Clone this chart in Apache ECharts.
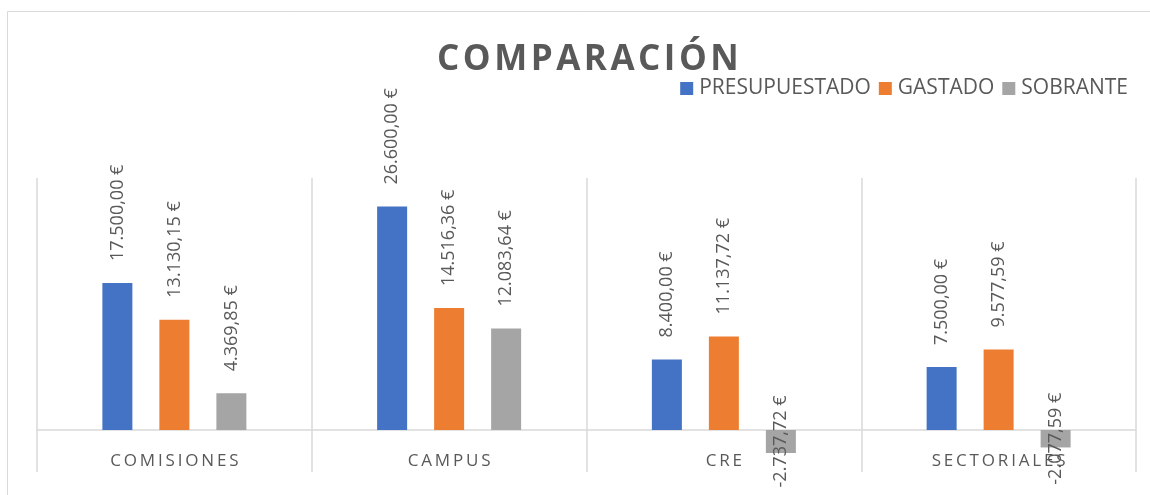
<!DOCTYPE html>
<html>
<head>
<meta charset="utf-8">
<script src="https://cdn.jsdelivr.net/npm/echarts@6/dist/echarts.min.js"></script>
<style>
html,body{margin:0;padding:0;background:#fff;}
#chart{width:1150px;height:495px;}
</style>
</head>
<body>
<div id="chart"></div>
<script>
var titleText = 'COMPARACIÓN';
var categories = ['COMISIONES', 'CAMPUS', 'CRE', 'SECTORIALES'];
var seriesNames = ['PRESUPUESTADO', 'GASTADO', 'SOBRANTE'];
var presupuestado = [17500, 26600, 8400, 7500];
var gastado = [13130.15, 14516.36, 11137.72, 9577.59];
var sobrante = [4369.85, 12083.64, -2737.72, -2077.59];
var colors = ['#4472C4', '#ED7D31', '#A5A5A5'];

function fmtEuro(v) {
  var neg = v < 0;
  var s = Math.abs(v).toFixed(2);
  var parts = s.split('.');
  var ip = parts[0].replace(/\B(?=(\d{3})+(?!\d))/g, '.');
  return (neg ? '-' : '') + ip + ',' + parts[1] + ' \u20AC';
}
function spaced(t, sp) { return t.split('').join(sp); }

var posLabel = {
  show: true, position: 'top', distance: 22, rotate: 90,
  align: 'left', verticalAlign: 'middle',
  fontFamily: 'Open Sans', fontSize: 18, color: '#595959',
  formatter: function (p) { return fmtEuro(p.value); }
};
function mkData(arr) {
  return arr.map(function (v) {
    if (v < 0) {
      return { value: v, label: { position: 'inside', align: 'center', verticalAlign: 'middle', distance: 0 } };
    }
    return v;
  });
}

var chart = echarts.init(document.getElementById('chart'));
var seriesData = [presupuestado, gastado, sobrante];
chart.setOption({
  animation: false,
  textStyle: { fontFamily: 'Open Sans' },
  title: {
    text: spaced(titleText, '\u200A'),
    left: 437, top: 43, padding: 0,
    textStyle: { fontFamily: 'Open Sans', fontWeight: 'bold', fontSize: 35, color: '#595959' }
  },
  legend: {
    data: seriesNames, right: 22, top: 78, padding: 0,
    itemWidth: 13, itemHeight: 13, itemGap: 8, icon: 'rect',
    textStyle: { fontFamily: 'Open Sans', fontSize: 21, color: '#595959', padding: [0, 0, 0, 1] }
  },
  graphic: [{
    type: 'rect', silent: true, z: -10,
    shape: { x: 7.5, y: 11.5, width: 1400, height: 800 },
    style: { fill: 'none', stroke: '#D9D9D9', lineWidth: 1 }
  }],
  grid: { left: 37, right: 14, top: 178, bottom: 23, containLabel: false, outerBoundsMode: 'none' },
  xAxis: {
    type: 'category', data: categories,
    axisLine: { show: true, onZero: true, lineStyle: { color: '#D9D9D9', width: 1.5 } },
    axisTick: { show: false },
    splitLine: { show: true, lineStyle: { color: '#D9D9D9', width: 1.5 } },
    axisLabel: {
      margin: -19, fontFamily: 'Open Sans', fontSize: 17, color: '#595959',
      formatter: function (v) { return spaced(v, '\u2009'); }
    }
  },
  yAxis: { type: 'value', min: -5000, max: 30000, show: false, splitLine: { show: false } },
  series: seriesNames.map(function (n, i) {
    return {
      name: n, type: 'bar', data: mkData(seriesData[i]),
      barWidth: 30, barGap: '90%',
      itemStyle: { color: colors[i] },
      label: posLabel
    };
  })
});
</script>
</body>
</html>
